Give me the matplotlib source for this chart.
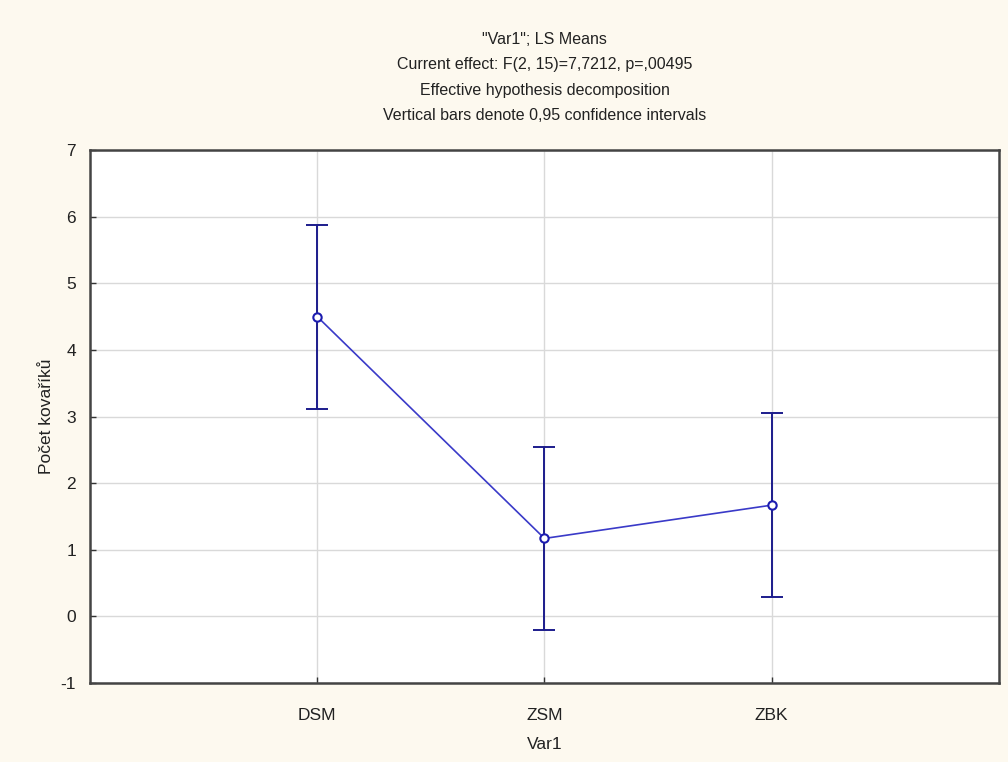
import matplotlib

matplotlib.use("Agg", force=True)

import matplotlib.pyplot as plt

categories = ["DSM", "ZSM", "ZBK"]
means = [4.50, 1.17, 1.67]
ci_low = [3.12, -0.21, 0.29]
ci_high = [5.88, 2.55, 3.05]

title_lines = [
    '"Var1"; LS Means',
    "Current effect: F(2, 15)=7,7212, p=,00495",
    "Effective hypothesis decomposition",
    "Vertical bars denote 0,95 confidence intervals",
]

plt.rcParams["font.family"] = ["Liberation Sans", "DejaVu Sans"]
plt.rcParams["axes.unicode_minus"] = False

fig = plt.figure(figsize=(10.08, 7.62), dpi=100, facecolor="#fdf9ef")
ax = fig.add_axes([0.0893, 0.1037, 0.9017, 0.6993])
ax.set_facecolor("white")

x = list(range(1, len(categories) + 1))
err_low = [m - lo for m, lo in zip(means, ci_low)]
err_high = [hi - m for m, hi in zip(means, ci_high)]

ax.errorbar(x, means, yerr=[err_low, err_high], fmt="none",
            ecolor="#1c1c8c", elinewidth=1.4, capsize=8, capthick=1.4, zorder=3)
ax.plot(x, means, color="#3a3ac8", linewidth=1.2, marker="o", markersize=6,
        markerfacecolor="white", markeredgecolor="#1c1cb0", markeredgewidth=1.5, zorder=4)

ax.set_xlim(0, 4)
ax.set_ylim(-1, 7)
ax.set_xticks(x, categories)
ax.set_yticks(range(-1, 8))
ax.grid(True, color="#d9d9d9", linewidth=1.0)
ax.set_axisbelow(True)
ax.tick_params(direction="in", length=4, width=1, colors="#333333", labelsize=12.5,
               labelcolor="#222222")
ax.tick_params(axis="x", pad=18)
ax.tick_params(axis="y", pad=10)
for spine in ax.spines.values():
    spine.set_color("#444444")
    spine.set_linewidth(1.8)

ax.set_xlabel("Var1", fontsize=12.5, color="#222222", labelpad=10)
ax.set_ylabel("Počet kovaříků", fontsize=12.5, color="#222222", labelpad=5)

for i, line in enumerate(title_lines):
    fig.text(0.5403, 1 - (40 + 25 * i) / 762, line, ha="center", va="center",
             fontsize=11.5, color="#222222")

fig.savefig("out.png", facecolor=fig.get_facecolor())
